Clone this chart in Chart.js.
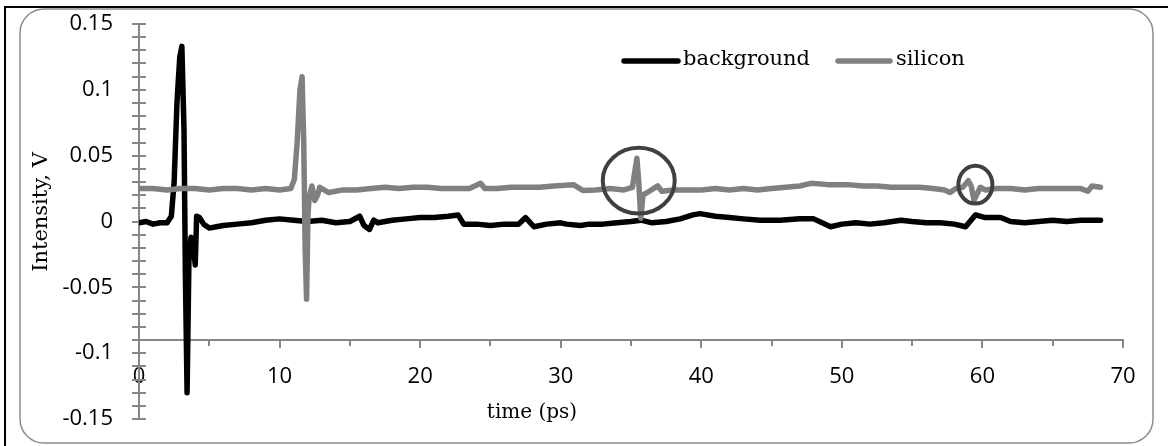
<!DOCTYPE html>
<html>
<head>
<meta charset="utf-8">
<title>Intensity vs time</title>
<script src="https://cdn.jsdelivr.net/npm/chart.js@4.4.1/dist/chart.umd.min.js"></script>
<style>
    html, body { margin: 0; padding: 0; background: #fff; }
    #wrap { position: relative; width: 1168px; height: 446px; }
</style>
</head>
<body>
<div id="wrap"><canvas id="signalChart"></canvas></div>
<script>
// Series: time (ps) and intensity (V)
const bgTime = [0, 0.5, 1, 1.5, 2, 2.3, 2.5, 2.7, 2.9, 3.05, 3.2, 3.3, 3.42, 3.55, 3.7, 3.85, 4.0, 4.1, 4.3, 4.6,
    5, 5.5, 6, 7, 8, 9, 10, 11, 12, 13, 14, 15, 15.7, 16, 16.4, 16.7, 17, 18, 19, 20, 21, 22, 22.7, 23.1,
    24, 25, 26, 27, 27.5, 28.1, 29, 30, 30.4, 31.4, 32, 33, 34, 35, 35.7, 36.5, 37.5, 38.5, 39.4, 39.9,
    41, 42, 43, 44.2, 45.6, 47, 48, 49.2, 50, 51, 52, 53, 54.2, 55, 56, 57, 58, 58.8, 59.5, 60.2, 61.3,
    62, 63, 64, 65, 66, 67, 68.4];
const bgValue = [-0.001, 0, -0.002, -0.001, -0.001, 0.004, 0.03, 0.09, 0.125, 0.133, 0.07, -0.04, -0.13, -0.03, -0.012, -0.015, -0.033, 0.004, 0.003, -0.002,
    -0.005, -0.004, -0.003, -0.002, -0.001, 0.001, 0.002, 0.001, 0, 0.001, -0.001, 0, 0.004, -0.003, -0.006, 0.001, -0.001, 0.001, 0.002, 0.003, 0.003, 0.004, 0.005, -0.002,
    -0.002, -0.003, -0.002, -0.002, 0.003, -0.004, -0.002, -0.001, -0.002, -0.003, -0.002, -0.002, -0.001, 0, 0.001, -0.001, 0, 0.002, 0.005, 0.006,
    0.004, 0.003, 0.002, 0.001, 0.001, 0.002, 0.002, -0.004, -0.002, -0.001, -0.002, -0.001, 0.001, 0, -0.001, -0.001, -0.002, -0.004, 0.005, 0.003, 0.003,
    0, -0.001, 0, 0.001, 0, 0.001, 0.001];

const siTime = [0, 1, 2, 3, 4, 5, 6, 7, 8, 9, 10, 10.8, 11.05, 11.25, 11.45, 11.6, 11.72, 11.82, 11.92, 12.02, 12.1, 12.3, 12.5, 12.7, 12.85,
    13.5, 14.5, 15.5, 16.5, 17.5, 18.5, 19.5, 20.5, 21.5, 22.5, 23.5, 24.3, 24.6, 25.5, 26.5, 27.5, 28.5, 29.5, 30.9, 31.6,
    32.5, 33.5, 34.5, 35.1, 35.3, 35.42, 35.55, 35.7, 35.85, 36.3, 36.9, 37.2, 38, 39, 40, 41, 42, 43, 44, 45, 46, 47, 47.8,
    49, 50.4, 51.5, 52.5, 53.5, 54.5, 55.5, 56.5, 57.3, 57.7, 58.1, 58.6, 59.0, 59.2, 59.4, 59.85, 60.2, 61, 62, 63, 64, 65, 66, 67, 67.5, 67.8, 68.4];
const siValue = [0.025, 0.025, 0.024, 0.025, 0.025, 0.024, 0.025, 0.025, 0.024, 0.025, 0.024, 0.025, 0.032, 0.06, 0.1, 0.11, 0.06, -0.02, -0.059, 0.005, 0.018, 0.027, 0.016, 0.02, 0.026,
    0.022, 0.024, 0.024, 0.025, 0.026, 0.025, 0.026, 0.026, 0.025, 0.025, 0.025, 0.029, 0.025, 0.025, 0.026, 0.026, 0.026, 0.027, 0.028, 0.0235,
    0.024, 0.025, 0.024, 0.026, 0.04, 0.048, 0.03, 0.0025, 0.02, 0.023, 0.027, 0.023, 0.024, 0.024, 0.024, 0.025, 0.024, 0.025, 0.024, 0.025, 0.026, 0.027, 0.029,
    0.028, 0.028, 0.027, 0.027, 0.026, 0.026, 0.026, 0.025, 0.024, 0.022, 0.025, 0.026, 0.031, 0.027, 0.016, 0.026, 0.024, 0.025, 0.025, 0.024, 0.025, 0.025, 0.025, 0.025, 0.023, 0.027, 0.026];

const seriesLabels = ['background', 'silicon'];
const seriesColors = ['#000000', '#808080'];

// Axis settings
const yMin = -0.15, yMax = 0.15, yStep = 0.05;
const xMin = 0, xMax = 70, xStep = 10;
const xAxisCrossing = -0.09;

// Highlight ellipses (centre and radii in data units)
const markX = [35.55, 59.5];
const markY = [0.031, 0.028];
const markRx = [2.56, 1.21];
const markRy = [0.025, 0.0144];

const SANS = '"Open Sans", "Liberation Sans", sans-serif';
const SERIF = '"DejaVu Serif", "Liberation Serif", serif';

function toPoints(xs, ys) {
    return xs.map((x, i) => ({ x: x, y: ys[i] }));
}

/**
 * Frame: black sheet edge + grey rounded chart border
 */
const framePlugin = {
    id: 'frame',
    beforeDraw(chart) {
        const ctx = chart.ctx;
        ctx.save();
        ctx.fillStyle = '#ffffff';
        ctx.fillRect(0, 0, chart.width, chart.height);

        ctx.strokeStyle = '#000000';
        ctx.lineWidth = 2;
        ctx.beginPath();
        ctx.moveTo(5, chart.height);
        ctx.lineTo(5, 7);
        ctx.lineTo(chart.width, 7);
        ctx.stroke();

        ctx.strokeStyle = '#8c8c8c';
        ctx.lineWidth = 1.5;
        ctx.beginPath();
        ctx.roundRect(20, 9, 1133, 434, 24);
        ctx.stroke();
        ctx.restore();
    }
};

/**
 * Tick marks, titles, legend and the highlight ellipses
 */
const decorPlugin = {
    id: 'decor',
    beforeDatasetsDraw(chart) {
        const ctx = chart.ctx;
        const xs = chart.scales.x, ys = chart.scales.y;
        const x0 = xs.getPixelForValue(0);
        const yAxis = ys.getPixelForValue(xAxisCrossing);
        ctx.save();
        ctx.strokeStyle = '#868686';
        ctx.lineWidth = 2;
        ctx.beginPath();
        // y ticks cross the axis, every 0.01
        for (let i = -15; i <= 15; i++) {
            const py = Math.round(ys.getPixelForValue(i / 100));
            ctx.moveTo(x0 - 7, py);
            ctx.lineTo(x0 + 7, py);
        }
        // x ticks below the axis
        for (let t = 0; t <= 70; t += 5) {
            const px = Math.round(xs.getPixelForValue(t));
            ctx.moveTo(px, yAxis);
            ctx.lineTo(px, yAxis + (t % 10 === 0 ? 8 : 6));
        }
        ctx.stroke();
        ctx.restore();
    },
    afterDatasetsDraw(chart) {
        const ctx = chart.ctx;
        const xs = chart.scales.x, ys = chart.scales.y;
        ctx.save();

        // ellipses
        ctx.strokeStyle = '#404040';
        ctx.lineWidth = 4;
        markX.forEach((mx, i) => {
            const cx = xs.getPixelForValue(mx);
            const cy = ys.getPixelForValue(markY[i]);
            const rx = xs.getPixelForValue(mx + markRx[i]) - cx;
            const ry = cy - ys.getPixelForValue(markY[i] + markRy[i]);
            ctx.beginPath();
            ctx.ellipse(cx, cy, rx, ry, 0, 0, Math.PI * 2);
            ctx.stroke();
        });

        // legend
        const legendSpots = [[624, 678, 683], [838, 890, 896]];
        ctx.font = '21px ' + SERIF;
        ctx.textBaseline = 'middle';
        ctx.textAlign = 'left';
        chart.data.datasets.forEach((ds, i) => {
            const [a, b, tx] = legendSpots[i];
            ctx.strokeStyle = ds.borderColor;
            ctx.lineWidth = 5.5;
            ctx.lineCap = 'round';
            ctx.beginPath();
            ctx.moveTo(a, 61);
            ctx.lineTo(b, 61);
            ctx.stroke();
            ctx.fillStyle = '#000';
            ctx.fillText(ds.label, tx, 60);
        });

        // axis titles
        ctx.fillStyle = '#000';
        ctx.textAlign = 'center';
        ctx.font = '20px ' + SERIF;
        ctx.fillText('time (ps)', 532, 413);
        ctx.translate(42, 212);
        ctx.rotate(-Math.PI / 2);
        ctx.font = '21px ' + SERIF;
        ctx.fillText('Intensity, V', 0, 0);
        ctx.restore();
    }
};

document.addEventListener('DOMContentLoaded', () => {
    initChart();
});

function initChart() {
    new Chart(document.getElementById('signalChart'), {
        type: 'line',
        data: {
            datasets: [
                {
                    label: seriesLabels[0],
                    data: toPoints(bgTime, bgValue),
                    borderColor: seriesColors[0],
                    backgroundColor: seriesColors[0],
                    order: 1
                },
                {
                    label: seriesLabels[1],
                    data: toPoints(siTime, siValue),
                    borderColor: seriesColors[1],
                    backgroundColor: seriesColors[1],
                    order: 0
                }
            ]
        },
        options: {
            responsive: true,
            maintainAspectRatio: false,
            animation: false,
            layout: { padding: { top: 24, bottom: 27, right: 45, left: 0 } },
            elements: {
                point: { radius: 0, hoverRadius: 0 },
                line: { borderWidth: 5.5, tension: 0, borderJoinStyle: 'round', borderCapStyle: 'round', fill: false }
            },
            plugins: {
                legend: { display: false },
                title: { display: false },
                tooltip: { enabled: false }
            },
            scales: {
                x: {
                    type: 'linear',
                    min: xMin,
                    max: xMax,
                    position: { y: xAxisCrossing },
                    grid: { display: false, drawTicks: true, tickLength: 10 },
                    border: { display: true, color: '#868686', width: 2 },
                    ticks: {
                        stepSize: xStep,
                        padding: 14,
                        color: '#000',
                        font: { family: SANS, size: 22 }
                    }
                },
                y: {
                    type: 'linear',
                    min: yMin,
                    max: yMax,
                    position: 'left',
                    afterFit: scale => { scale.width = 139; },
                    grid: { display: false, drawTicks: true, tickLength: 18 },
                    border: { display: true, color: '#868686', width: 2 },
                    ticks: {
                        stepSize: yStep,
                        padding: 8,
                        color: '#000',
                        font: { family: SANS, size: 22 },
                        callback: v => String(Number(v.toFixed(2)))
                    }
                }
            }
        },
        plugins: [framePlugin, decorPlugin]
    });
}
</script>
</body>
</html>
